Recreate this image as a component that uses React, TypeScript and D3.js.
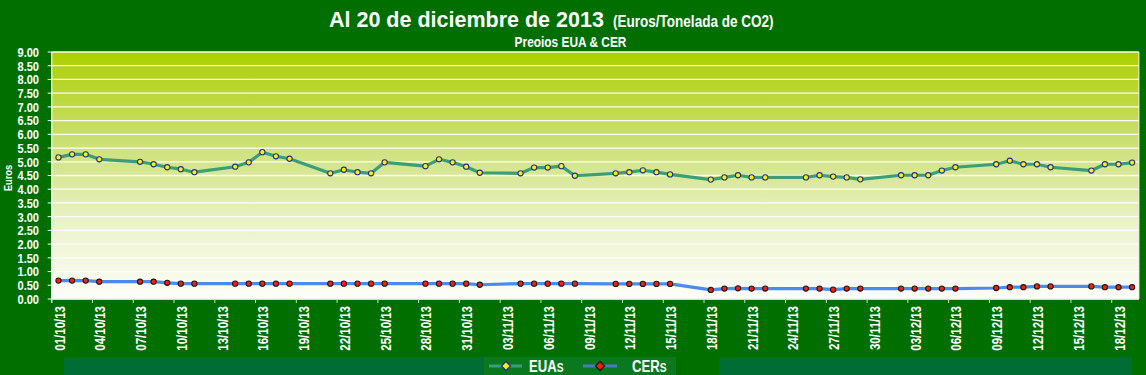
import React from "react";
import * as d3 from "d3";

const dates: string[] = [
  "2013-10-01","2013-10-02","2013-10-03","2013-10-04",
  "2013-10-07","2013-10-08","2013-10-09","2013-10-10","2013-10-11",
  "2013-10-14","2013-10-15","2013-10-16","2013-10-17","2013-10-18",
  "2013-10-21","2013-10-22","2013-10-23","2013-10-24","2013-10-25",
  "2013-10-28","2013-10-29","2013-10-30","2013-10-31","2013-11-01",
  "2013-11-04","2013-11-05","2013-11-06","2013-11-07","2013-11-08",
  "2013-11-11","2013-11-12","2013-11-13","2013-11-14","2013-11-15",
  "2013-11-18","2013-11-19","2013-11-20","2013-11-21","2013-11-22",
  "2013-11-25","2013-11-26","2013-11-27","2013-11-28","2013-11-29",
  "2013-12-02","2013-12-03","2013-12-04","2013-12-05","2013-12-06",
  "2013-12-09","2013-12-10","2013-12-11","2013-12-12","2013-12-13",
  "2013-12-16","2013-12-17","2013-12-18","2013-12-19",
];

const euaValues: number[] = [
  5.16, 5.27, 5.27, 5.09,
  5.0, 4.91, 4.8, 4.73, 4.62,
  4.82, 4.98, 5.35, 5.2, 5.11,
  4.58, 4.71, 4.62, 4.58, 4.98,
  4.84, 5.09, 4.98, 4.82, 4.6,
  4.58, 4.79, 4.79, 4.84, 4.49,
  4.58, 4.62, 4.69, 4.62, 4.54,
  4.35, 4.43, 4.51, 4.43, 4.43,
  4.43, 4.51, 4.46, 4.43, 4.36,
  4.51, 4.51, 4.51, 4.68, 4.8,
  4.91, 5.04, 4.91, 4.91, 4.8,
  4.68, 4.91, 4.91, 4.97,
];

const cerValues: number[] = [
  0.67, 0.67, 0.67, 0.63,
  0.63, 0.63, 0.59, 0.56, 0.56,
  0.56, 0.56, 0.56, 0.56, 0.56,
  0.56, 0.56, 0.56, 0.56, 0.56,
  0.56, 0.56, 0.56, 0.56, 0.52,
  0.56, 0.56, 0.56, 0.56, 0.56,
  0.55, 0.55, 0.55, 0.55, 0.55,
  0.33, 0.38, 0.39, 0.38, 0.38,
  0.38, 0.38, 0.34, 0.38, 0.38,
  0.38, 0.38, 0.38, 0.38, 0.38,
  0.4, 0.43, 0.43, 0.46, 0.46,
  0.46, 0.43, 0.43, 0.43,
];

const yTicks: number[] = [0, 0.5, 1, 1.5, 2, 2.5, 3, 3.5, 4, 4.5, 5, 5.5, 6, 6.5, 7, 7.5, 8, 8.5, 9];

const titleMain = "Al 20 de diciembre de 2013";
const titleUnits = "(Euros/Tonelada de CO2)";
const subtitle = "Preoios EUA & CER";
const yTitle = "Euros";
const seriesNames = ["EUA", "CER"];

const W = 1146;
const H = 375;
const ARIAL = "'Liberation Sans', Arial, Helvetica, sans-serif";
const NARROW_SCALE = 0.82;

type NTProps = {
  x: number;
  y: number;
  rotate?: number;
  size: number;
  anchor?: "start" | "middle" | "end";
  dy?: string;
  children: React.ReactNode;
};

// Arial Narrow look: Liberation Sans Bold squeezed along the text direction
function NarrowText({ x, y, rotate = 0, size, anchor = "start", dy, children }: NTProps) {
  return (
    <text
      transform={`translate(${x},${y}) rotate(${rotate}) scale(${NARROW_SCALE},1)`}
      textAnchor={anchor}
      dy={dy}
      fill="#fff"
      fontWeight="bold"
      fontFamily={ARIAL}
      fontSize={size}
    >
      {children}
    </text>
  );
}

export default function App() {
  const parse = d3.utcParse("%Y-%m-%d");
  const start = parse("2013-10-01") as Date;
  const end = parse("2013-12-20") as Date;
  const left = 51.7;
  const right = 1138.9;
  const top = 52;
  const bottom = 299;

  const x = d3.scaleUtc().domain([start, end]).range([left, right]);
  const y = d3.scaleLinear().domain([0, 9]).range([bottom, top]);
  const halfDay = (x(d3.utcDay.offset(start, 1)) - x(start)) / 2;
  const px = (s: string) => x(parse(s) as Date) + halfDay;

  const eua = dates.map((d, i) => ({ x: px(d), y: y(euaValues[i]) }));
  const cer = dates.map((d, i) => ({ x: px(d), y: y(cerValues[i]) }));
  const line = d3.line<{ x: number; y: number }>().x((d) => d.x).y((d) => d.y);

  const nDays = d3.utcDay.count(start, end);
  const xTicks = d3.range(0, nDays, 3).map((k) => d3.utcDay.offset(start, k));
  const fmt = d3.utcFormat("%d/%m/%y");

  return (
    <div style={{ position: "fixed", left: 0, top: 0, width: W, height: H }}>
      <svg width={W} height={H} style={{ display: "block" }}>
        <defs>
          <linearGradient id="plotGrad" x1="0" y1="0" x2="0" y2="1">
            <stop offset="0" stopColor="#ACCF00" />
            <stop offset="0.35" stopColor="#CADF70" />
            <stop offset="0.7" stopColor="#EBF3CC" />
            <stop offset="1" stopColor="#FDFEF9" />
          </linearGradient>
        </defs>
        <rect x={0} y={0} width={W} height={H} fill="#006F00" />
        <rect x={64} y={357} width={612} height={18} fill="#006E34" />
        <rect x={484} y={357} width={192} height={18} fill="#0A781E" />
        <rect x={719} y={357} width={413} height={18} fill="#006E34" />

        {/* title */}
        <text x={329} y={27} fill="#fff" fontWeight="bold" fontFamily={ARIAL} fontSize={21.5}>
          {titleMain}
        </text>
        <NarrowText x={613} y={27} size={16.5}>{titleUnits}</NarrowText>
        <NarrowText x={570.5} y={46.5} size={14.5} anchor="middle">{subtitle}</NarrowText>

        {/* plot area */}
        <rect x={left} y={top} width={right - left} height={bottom - top} fill="url(#plotGrad)" />
        {yTicks.map((t) => (
          <line key={"g" + t} x1={left} x2={right} y1={y(t)} y2={y(t)} stroke="#FFFFFF" strokeWidth={1.3} opacity={0.95} />
        ))}
        <line x1={right} x2={right} y1={top} y2={bottom} stroke="#F4F4F4" strokeWidth={1} />
        <line x1={left} x2={left} y1={top} y2={bottom + 4} stroke="#FFFFFF" strokeWidth={1.2} />
        <line x1={left} x2={right} y1={bottom} y2={bottom} stroke="#E8E8E8" strokeWidth={1} />

        {/* y axis */}
        {yTicks.map((t) => (
          <g key={"yt" + t}>
            <line x1={left - 4} x2={left} y1={y(t)} y2={y(t)} stroke="#FFFFFF" strokeWidth={1} />
            <NarrowText x={39} y={y(t)} dy="0.36em" anchor="end" size={13.5}>
              {d3.format(".2f")(t)}
            </NarrowText>
          </g>
        ))}
        <NarrowText x={11.5} y={178} rotate={-90} anchor="middle" size={11.5}>{yTitle}</NarrowText>

        {/* x axis */}
        {xTicks.map((t, i) => (
          <g key={"xt" + i}>
            <line x1={x(t)} x2={x(t)} y1={bottom} y2={bottom + 4} stroke="#D8D8D8" strokeWidth={1} />
            <NarrowText x={x(t) + halfDay + 1} y={306} rotate={-90} dy="0.36em" anchor="end" size={14}>
              {fmt(t)}
            </NarrowText>
          </g>
        ))}

        {/* series */}
        <path d={line(eua) || ""} fill="none" stroke="#3A9E78" strokeWidth={3.2} strokeLinejoin="round" />
        <path d={line(cer) || ""} fill="none" stroke="#4C8BEE" strokeWidth={3.2} strokeLinejoin="round" />
        {eua.map((p, i) => (
          <circle key={"e" + i} cx={p.x} cy={p.y} r={2.6} fill="#FFF200" stroke="#25308C" strokeWidth={1.1} />
        ))}
        {cer.map((p, i) => (
          <circle key={"c" + i} cx={p.x} cy={p.y} r={2.6} fill="#FF1E00" stroke="#1A1A1A" strokeWidth={1.1} />
        ))}

        {/* legend */}
        <line x1={489} x2={522} y1={366} y2={366} stroke="#3A9E78" strokeWidth={3} />
        <path d="M506,361.5 L510.5,366 L506,370.5 L501.5,366 Z" fill="#FFF200" stroke="#25308C" strokeWidth={1.4} />
        <NarrowText x={529} y={371.5} size={16}>
          {seriesNames[0]}
          <tspan fontSize={12.5}>S</tspan>
        </NarrowText>
        <line x1={583} x2={617} y1={366} y2={366} stroke="#4C78C8" strokeWidth={3} />
        <path d="M600,361.5 L604.5,366 L600,370.5 L595.5,366 Z" fill="#FF1E00" stroke="#1A1A1A" strokeWidth={1.4} />
        <NarrowText x={632} y={371.5} size={16}>
          {seriesNames[1]}
          <tspan fontSize={12.5}>S</tspan>
        </NarrowText>
      </svg>
    </div>
  );
}
